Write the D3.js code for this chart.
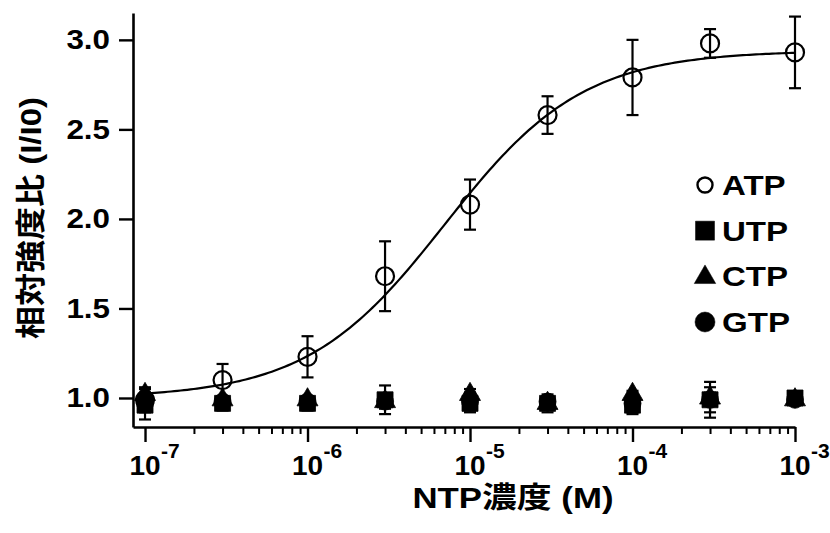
<!DOCTYPE html>
<html>
<head>
<meta charset="utf-8">
<script src="https://cdn.jsdelivr.net/npm/d3@7"></script>
<style>
  html, body { margin: 0; padding: 0; background: #fff; }
  svg { display: block; }
  text { font-family: "Liberation Sans", Arial, "Noto Sans CJK JP", sans-serif; font-weight: bold; fill: #000; }
</style>
</head>
<body>
<svg id="chart" width="830" height="533"></svg>
<script>
// NTP concentrations (M)
const concentrations = [1e-7, 3e-7, 1e-6, 3e-6, 1e-5, 3e-5, 1e-4, 3e-4, 1e-3];

// Relative intensity ratio (I/I0), mean and error bar half-length
const atpMean = [0.99, 1.10, 1.23, 1.68, 2.08, 2.58, 2.79, 2.98, 2.93];
const atpErr  = [0.03, 0.09, 0.115, 0.195, 0.14, 0.105, 0.21, 0.08, 0.20];
const utpMean = [0.96, 0.97, 0.97, 0.99, 0.97, 0.97, 0.96, 0.99, 1.00];
const utpErr  = [0.04, 0.04, 0.04, 0.08, 0.05, 0.05, 0.05, 0.10, 0.03];
const ctpMean = [1.02, 0.99, 0.99, 0.98, 1.02, 0.97, 1.02, 1.00, 0.99];
const ctpErr  = [0.03, 0.02, 0.02, 0.03, 0.03, 0.03, 0.02, 0.03, 0.02];
const gtpMean = [0.97, 0.98, 0.98, 0.98, 0.98, 0.98, 0.97, 0.99, 0.99];
const gtpErr  = [0.09, 0.03, 0.03, 0.04, 0.05, 0.03, 0.05, 0.07, 0.02];

// Hill fit of the ATP response
const fitBottom = 1.0;
const fitTop = 2.94;
const fitEC50 = 7e-6;
const fitSlope = 1.02;

// Axis ticks
const yTicks = [1.0, 1.5, 2.0, 2.5, 3.0];
const xDecades = [-7, -6, -5, -4, -3];

const legendNames = ["ATP", "UTP", "CTP", "GTP"];
const xTitle = "NTP濃度 (M)";
const yTitle = "相対強度比 (I/I0)";

const svg = d3.select("#chart");

const x = d3.scaleLog().domain([Math.pow(10, -7.074), 1e-3]).range([133, 795]);
const y = d3.scaleLinear().domain([0.838, 3.15]).range([427, 13]);

// widen glyphs horizontally to the chart's lettering proportions
function stretch(sel, k) {
  sel.each(function () {
    const L = this.getComputedTextLength();
    d3.select(this).attr("textLength", L * k).attr("lengthAdjust", "spacingAndGlyphs");
  });
}

// ---- axes ----
const yAxis = svg.append("g")
  .attr("transform", "translate(133,0)")
  .call(d3.axisLeft(y).tickValues(yTicks).tickFormat(d3.format(".1f"))
    .tickSizeInner(14).tickSizeOuter(0).tickPadding(9));
yAxis.select(".domain").attr("stroke", "#000").attr("stroke-width", 2.6);
yAxis.selectAll(".tick line").attr("stroke", "#000").attr("stroke-width", 2.4);
yAxis.selectAll(".tick text").attr("font-size", 28)
  .style("font-family", '"Liberation Sans", Arial, sans-serif').style("font-weight", "bold");
stretch(yAxis.selectAll(".tick text"), 1.12);

const majors = xDecades.map(e => Math.pow(10, e));
const minors = [];
for (let e = -7; e < -3; e++) for (let m = 2; m <= 9; m++) minors.push(m * Math.pow(10, e));

const xAxis = svg.append("g")
  .attr("transform", "translate(0,427)")
  .call(d3.axisBottom(x).tickValues(majors).tickFormat("").tickSizeInner(15).tickSizeOuter(0));
xAxis.select(".domain").attr("stroke", "#000").attr("stroke-width", 2.6);
xAxis.selectAll(".tick line").attr("stroke", "#000").attr("stroke-width", 2.4);

const xMinor = svg.append("g")
  .attr("transform", "translate(0,427)")
  .call(d3.axisBottom(x).tickValues(minors).tickFormat("").tickSizeInner(7).tickSizeOuter(0));
xMinor.select(".domain").remove();
xMinor.selectAll(".tick line").attr("stroke", "#000").attr("stroke-width", 2);

// decade labels: 10 with superscript exponent
const xLab = svg.append("g");
xDecades.forEach(e => {
  const px = x(Math.pow(10, e));
  xLab.append("text").attr("x", px).attr("y", 475).attr("text-anchor", "middle")
    .attr("font-size", 28).text("10");
  xLab.append("text").attr("x", px + 16).attr("y", 458).attr("text-anchor", "start")
    .attr("font-size", 21).text("-" + Math.abs(e));
});

// axis titles
const xt = svg.append("text").attr("x", 513).attr("y", 508).attr("text-anchor", "middle")
  .attr("font-size", 29).text(xTitle);
stretch(xt, 1.2);

const yt = svg.append("text").attr("transform", "translate(41,218) rotate(-90)")
  .attr("text-anchor", "middle").attr("font-size", 30).text(yTitle);
stretch(yt, 1.1);

// ---- fitted curve ----
const hill = c => fitBottom + (fitTop - fitBottom) / (1 + Math.pow(fitEC50 / c, fitSlope));
const fitX = d3.range(-7, -3.0001, 0.02).concat([-3]).map(e => Math.pow(10, e));
svg.append("path")
  .datum(fitX)
  .attr("fill", "none").attr("stroke", "#000").attr("stroke-width", 2.2)
  .attr("d", d3.line().x(c => x(c)).y(c => y(hill(c))));

// ---- error bars + markers ----
function errorBars(means, errs) {
  const g = svg.append("g").attr("stroke", "#000").attr("stroke-width", 2.2);
  concentrations.forEach((c, i) => {
    const cx = x(c), hi = y(means[i] + errs[i]), lo = y(means[i] - errs[i]);
    g.append("line").attr("x1", cx).attr("x2", cx).attr("y1", hi).attr("y2", lo);
    g.append("line").attr("x1", cx - 6).attr("x2", cx + 6).attr("y1", hi).attr("y2", hi);
    g.append("line").attr("x1", cx - 6).attr("x2", cx + 6).attr("y1", lo).attr("y2", lo);
  });
}

const symbols = {
  ATP: { type: d3.symbolCircle, fill: "none" },
  UTP: { type: d3.symbolSquare, fill: "#000" },
  CTP: { type: d3.symbolTriangle, fill: "#000" },
  GTP: { type: d3.symbolCircle, fill: "#000" }
};

function markers(name, means, area) {
  const s = symbols[name];
  svg.append("g").selectAll("path").data(concentrations).join("path")
    .attr("transform", (c, i) => `translate(${x(c)},${y(means[i])})`)
    .attr("d", d3.symbol().type(s.type).size(area))
    .attr("fill", s.fill).attr("stroke", "#000").attr("stroke-width", s.fill === "none" ? 2.2 : 0.8);
}

errorBars(atpMean, atpErr);
markers("ATP", atpMean, Math.PI * 9 * 9);
errorBars(utpMean, utpErr);
errorBars(ctpMean, ctpErr);
errorBars(gtpMean, gtpErr);
markers("UTP", utpMean, 16 * 16);
markers("CTP", ctpMean, 190);
markers("GTP", gtpMean, Math.PI * 8.5 * 8.5);

// ---- legend ----
const legendY = d3.scalePoint().domain(legendNames).range([185, 322]);
const leg = svg.append("g");
legendNames.forEach(n => {
  const s = symbols[n];
  const area = n === "ATP" ? Math.PI * 7.5 * 7.5 : n === "UTP" ? 19 * 19 : n === "CTP" ? 200 : Math.PI * 10 * 10;
  leg.append("path")
    .attr("transform", `translate(705,${legendY(n) + (n === "CTP" ? 1 : 0)})`)
    .attr("d", d3.symbol().type(s.type).size(area))
    .attr("fill", s.fill).attr("stroke", "#000").attr("stroke-width", s.fill === "none" ? 2.4 : 0.5);
  const t = leg.append("text").attr("x", 722).attr("y", legendY(n) + 10)
    .attr("font-size", 28).text(n);
  stretch(t, 1.18);
});
</script>
</body>
</html>
